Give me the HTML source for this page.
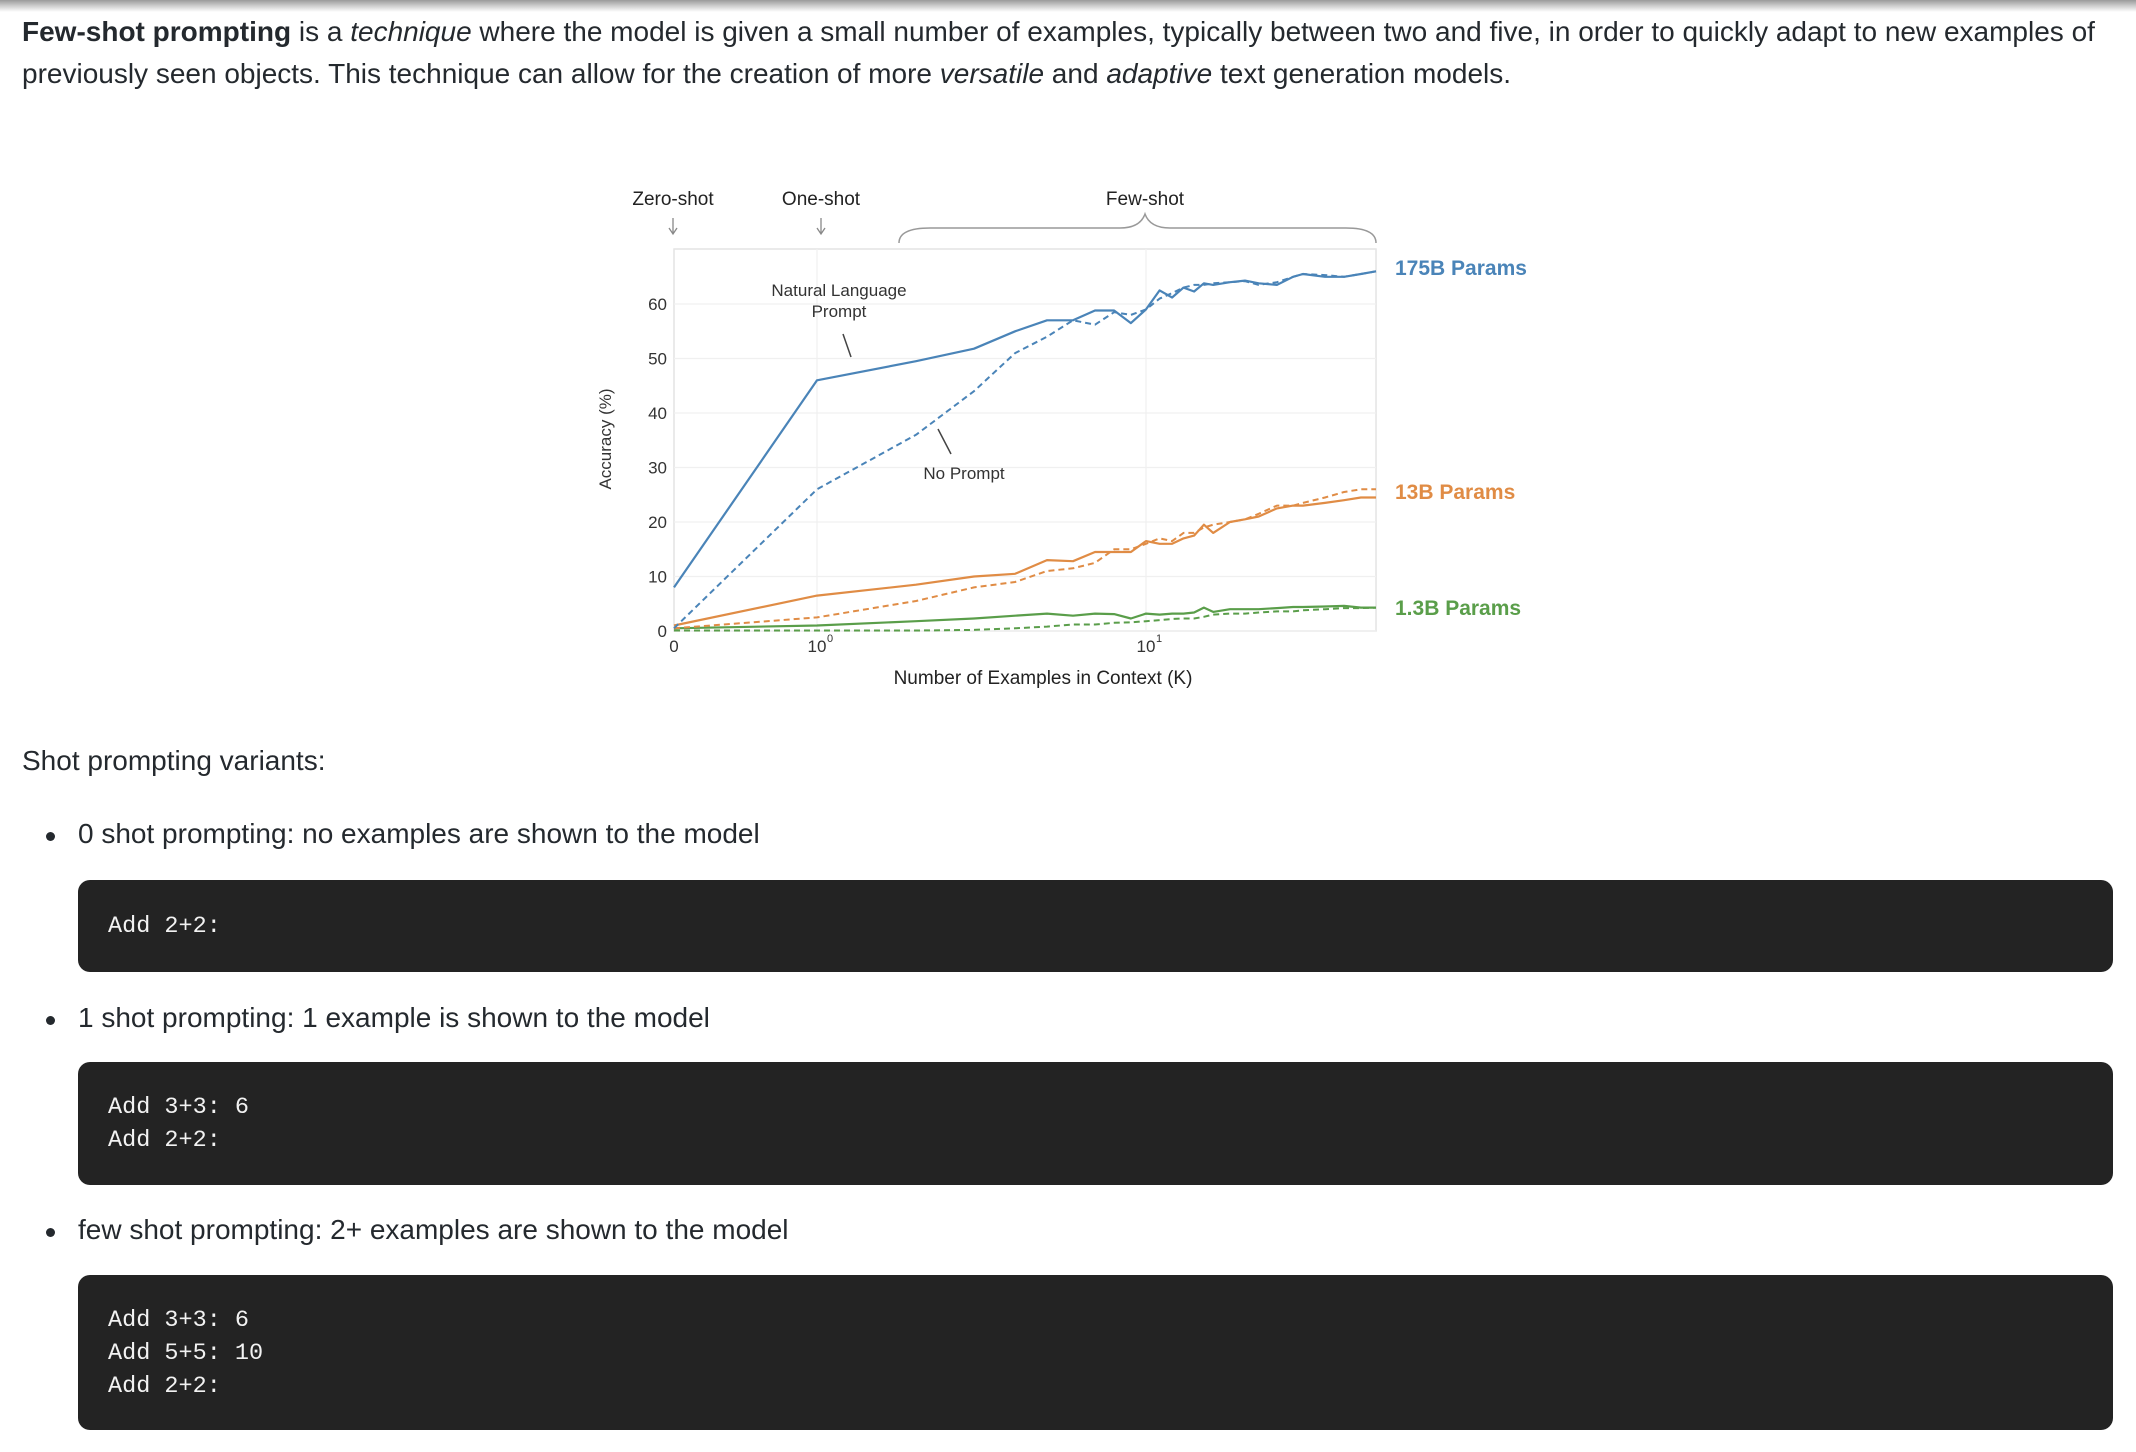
<!DOCTYPE html>
<html><head><meta charset="utf-8">
<style>
html,body{margin:0;padding:0;background:#fff;}
body{width:2136px;height:1452px;position:relative;overflow:hidden;font-family:"Liberation Sans",Arial,sans-serif;color:#24292e;}
.topbar{position:absolute;left:0;top:0;width:2136px;height:12px;background:linear-gradient(#9a9a9a,#d8d8d8 60%,#fff);}
.t{position:absolute;white-space:nowrap;font-size:28px;}
.code{position:absolute;left:78px;width:2035px;background:#232323;border-radius:12px;}
.code pre{margin:0;position:absolute;left:30px;font-family:"Liberation Mono","DejaVu Sans Mono",monospace;font-size:23.5px;line-height:33px;color:#f2f2f2;}
.bullet{position:absolute;left:46px;width:9px;height:9px;border-radius:50%;background:#24292e;}
</style></head>
<body>
<div class="topbar"></div>
<div class="t" style="left:22px;top:16px;">
<b>Few-shot prompting</b> is a <i>technique</i> where the model is given a small number of examples, typically between two and five, in order to quickly adapt to new examples of</div>
<div class="t" style="left:22px;top:58px;">previously seen objects. This technique can allow for the creation of more <i>versatile</i> and <i>adaptive</i> text generation models.</div>

<svg id="chart" width="2136" height="1452" style="position:absolute;left:0;top:0;" font-family="Liberation Sans, Arial, sans-serif"></svg>

<div class="t" style="left:22px;top:745px;">Shot prompting variants:</div>

<div class="bullet" style="top:832px;"></div>
<div class="t" style="left:78px;top:818px;">0 shot prompting: no examples are shown to the model</div>
<div class="code" style="top:880px;height:92px;"><pre style="top:30px;">Add 2+2:</pre></div>

<div class="bullet" style="top:1016px;"></div>
<div class="t" style="left:78px;top:1002px;">1 shot prompting: 1 example is shown to the model</div>
<div class="code" style="top:1062px;height:123px;"><pre style="top:29px;">Add 3+3: 6
Add 2+2:</pre></div>

<div class="bullet" style="top:1228px;"></div>
<div class="t" style="left:78px;top:1214px;">few shot prompting: 2+ examples are shown to the model</div>
<div class="code" style="top:1275px;height:155px;"><pre style="top:29px;">Add 3+3: 6
Add 5+5: 10
Add 2+2:</pre></div>

<script>
const kValues = [0,1,2,3,4,5,6,7,8,9,10,11,12,13,14,15,16,18,20,22,25,28,30,35,40,45,50];
const acc175Prompt = [8,46,49.5,51.8,55,57,57,58.8,58.8,56.5,59,62.5,61.2,63,62.3,63.8,63.5,64,64.3,63.8,63.5,65,65.5,65,65,65.5,66];
const acc175NoPrompt = [0.5,26,36,44,51,54,57,56.2,58.5,58,59,61,62,63,63.5,63.5,63.8,64,64.2,63.5,64,65,65.5,65.3,65,65.5,66];
const acc13Prompt = [1,6.5,8.5,10,10.5,13,12.8,14.5,14.5,14.5,16.5,16,16,17,17.5,19.5,18,20,20.5,21,22.5,23,23,23.5,24,24.5,24.5];
const acc13NoPrompt = [0.5,2.5,5.5,8,9,11,11.5,12.5,15,15,16,17,16.5,18,18,19,19.5,20,20.5,21.5,23,23,23.5,24.5,25.5,26,26];
const acc1Prompt = [0.5,1,1.8,2.3,2.8,3.2,2.8,3.2,3.1,2.3,3.2,3,3.2,3.2,3.4,4.3,3.5,4,4,4,4.2,4.4,4.4,4.5,4.6,4.3,4.3];
const acc1NoPrompt = [0.1,0.1,0.1,0.2,0.5,0.8,1.2,1.2,1.5,1.6,1.8,2,2.2,2.3,2.3,2.6,3,3.2,3.2,3.4,3.6,3.6,3.8,4,4.2,4.2,4.3];
const yTicks = [0,10,20,30,40,50,60];
const xTickLabels = [{k:0,t:"0"},{k:1,t:"10",e:"0"},{k:10,t:"10",e:"1"}];

const NS="http://www.w3.org/2000/svg";
const svg=document.getElementById('chart');
const X0=674, X1=817, DEC=329, XR=1376, Y0=631, YU=5.45, YT=249;
function xs(k){return k<=0?X0:X1+DEC*Math.log10(k);}
function ys(v){return Y0-v*YU;}
function el(tag,attrs){const e=document.createElementNS(NS,tag);for(const a in attrs)e.setAttribute(a,attrs[a]);svg.appendChild(e);return e;}
function txt(x,y,s,size,fill,anchor,weight){const e=el('text',{x:x,y:y,'font-size':size,fill:fill,'text-anchor':anchor||'middle','font-weight':weight||'normal'});e.textContent=s;return e;}

const frame=el('rect',{x:X0,y:YT,width:XR-X0,height:Y0-YT,fill:'none',stroke:'#e4e4e4','stroke-width':1.5});


yTicks.forEach(v=>{
  const g=el('line',{x1:X0,x2:XR,y1:ys(v),y2:ys(v),stroke:'#f0f0f0','stroke-width':1.2});
  
  
  const t=txt(667,ys(v)+6,String(v),17,'#333','end');
  
  
});
xTickLabels.forEach(d=>{
  if(d.k>0){const g=el('line',{x1:xs(d.k),x2:xs(d.k),y1:YT,y2:Y0,stroke:'#f0f0f0','stroke-width':1.2});
  
  }
  const t=txt(xs(d.k),652,d.t,17,'#333');
  
  
  if(d.e){const s=txt(xs(d.k)+13,642,d.e,11,'#333');
  
  }
});
const xt=txt(1043,684,'Number of Examples in Context  (K)',19,'#222');


const yt=txt(0,0,'Accuracy (%)',17,'#333');
yt.setAttribute('transform','translate(611,439) rotate(-90)');



[['Zero-shot',673],['One-shot',821],['Few-shot',1145]].forEach(d=>{
  const t=txt(d[1],205,d[0],19,'#222');
  
  
});
[673,821].forEach(x=>{
  const a=el('path',{d:`M${x} 218 L${x} 234 M${x-4} 228 L${x} 234 L${x+4} 228`,stroke:'#888',fill:'none','stroke-width':1.3});
  
  
});
const br=el('path',{d:'M899 243 Q899 228 930 228 L1120 228 Q1140 228 1145 214 Q1150 228 1170 228 L1346 228 Q1376 228 1376 243',stroke:'#999',fill:'none','stroke-width':1.5});



function series(vals,color,dash,width,name){
  const d=vals.map((v,i)=>(i?'L':'M')+xs(kValues[i]).toFixed(1)+' '+ys(v).toFixed(1)).join(' ');
  const p=el('path',{d:d,stroke:color,fill:'none','stroke-width':width,'stroke-dasharray':dash||'none','stroke-linejoin':'round'});
  
  
}
const BLUE='#4a84b8', ORANGE='#e08c45', GREEN='#5a9e4a';
series(acc1NoPrompt,GREEN,'6 4',2,'line-1-3b-no-prompt');
series(acc1Prompt,GREEN,null,2.2,'line-1-3b-prompt');
series(acc13NoPrompt,ORANGE,'6 4',2,'line-13b-no-prompt');
series(acc13Prompt,ORANGE,null,2.2,'line-13b-prompt');
series(acc175NoPrompt,BLUE,'6 4',2,'line-175b-no-prompt');
series(acc175Prompt,BLUE,null,2.2,'line-175b-prompt');

[['175B Params',275,BLUE],['13B Params',499,ORANGE],['1.3B Params',615,GREEN]].forEach(d=>{
  const t=txt(1395,d[1],d[0],21,d[2],'start','bold');
  
  
});
const a1=txt(839,296,'Natural Language',17,'#333');


const a2=txt(839,317,'Prompt',17,'#333');


const l1=el('line',{x1:843,y1:334,x2:851,y2:357,stroke:'#444','stroke-width':1.5});


const a3=txt(964,479,'No Prompt',17,'#333');


const l2=el('line',{x1:938,y1:429,x2:951,y2:454,stroke:'#444','stroke-width':1.5});


</script>
</body></html>
